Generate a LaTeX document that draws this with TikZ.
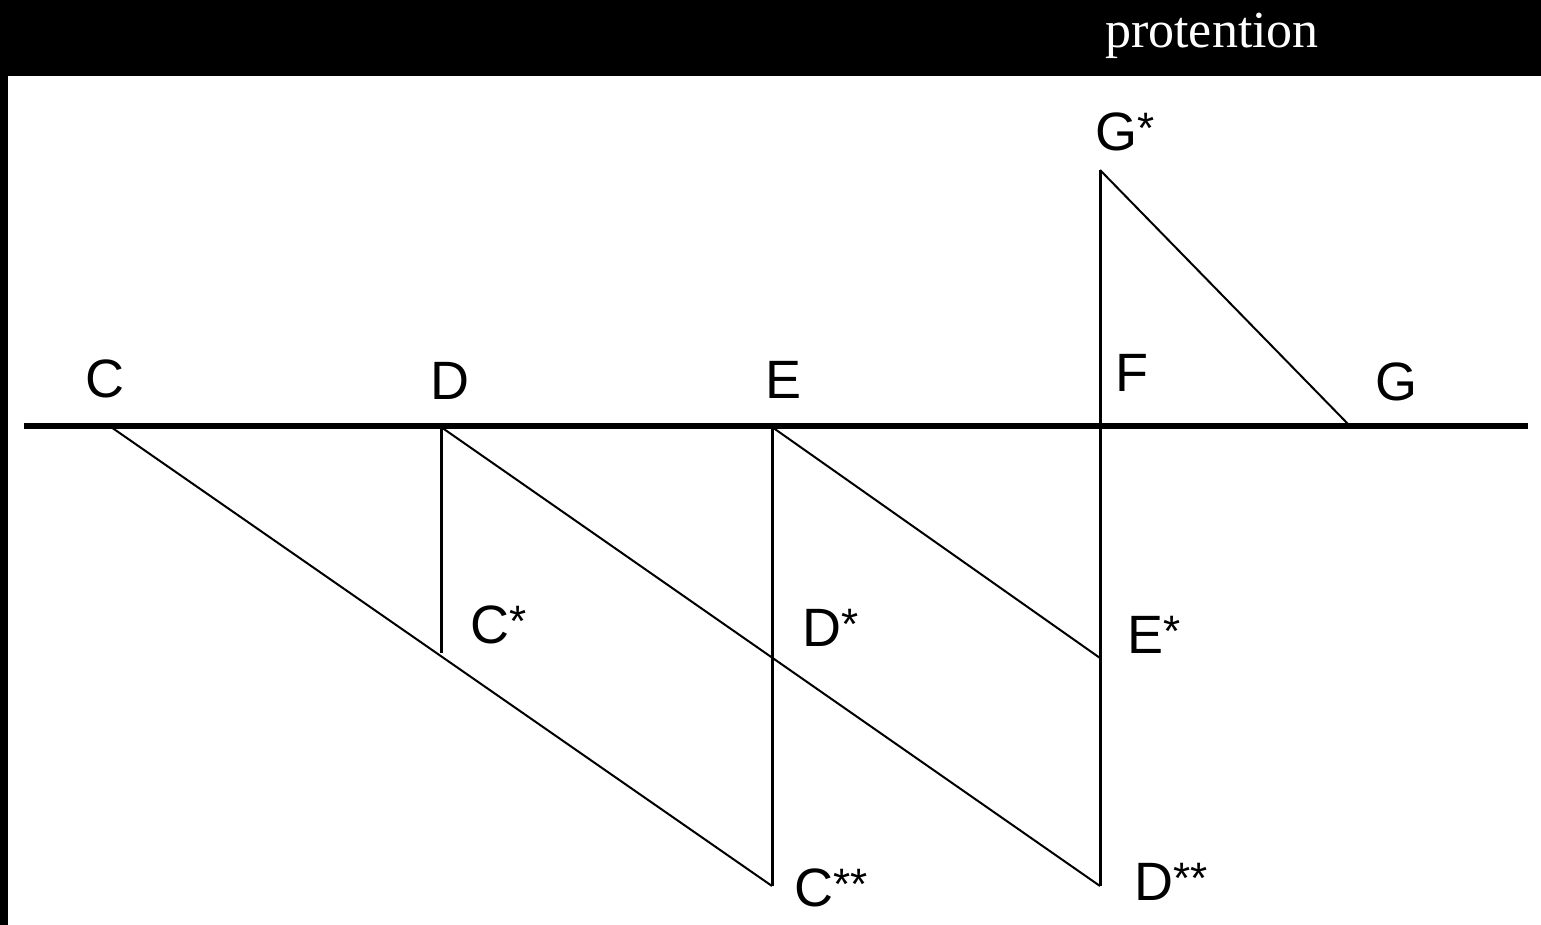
\documentclass[tikz,border=0pt]{standalone}
\usepackage{fontspec}
\setmainfont{Liberation Serif}
\newfontfamily\ptfont{Liberation Sans}
\usetikzlibrary{positioning}
\newcommand{\st}{\raisebox{3.7pt}{\fontsize{22}{22}\selectfont*}}
\tikzstyle{lbl}=[inner sep=0pt, text=black, font=\ptfont\fontsize{27}{30}\selectfont]
\tikzstyle{title}=[inner sep=0pt, text=white, font=\fontsize{26}{30}\selectfont]
\tikzstyle{axisline}=[line width=3pt]
\tikzstyle{vline}=[line width=1.5pt]
\tikzstyle{dline}=[line width=1pt]

\begin{document}
\begin{tikzpicture}[x=0.5pt, y=-0.5pt]

    \useasboundingbox (0,0) rectangle (1541,925);
    \fill[black] (0,0) rectangle (1541,925);
    \fill[white] (8,76) rectangle (1541,925);

    \node[title] (prot) at (1212,36) {protention};

    % points
    \coordinate (axL) at (24,426);
    \coordinate (axR) at (1528,426);
    \coordinate (C) at (111,427);
    \coordinate (D) at (441,427);
    \coordinate (E) at (772,427);
    \coordinate (F) at (1100,427);
    \coordinate (G) at (1348,424);
    \coordinate (Gs) at (1100,170);
    \coordinate (Cs) at (441,653);
    \coordinate (Es) at (1100,658);
    \coordinate (Css) at (772,886);
    \coordinate (Dss) at (1100,886);

    % labels
    \node[lbl] (lC) at (105,379) {C};
    \node[lbl] (lD) at (450,381) {D};
    \node[lbl] (lE) at (783,380) {E};
    \node[lbl] (lF) at (1132,373) {F};
    \node[lbl] (lG) at (1396,382) {G};
    \node[lbl] (lGs) at (1125,132) {G\st};
    \node[lbl] (lCs) at (499,625) {C\st};
    \node[lbl] (lDs) at (831,628) {D\st};
    \node[lbl] (lEs) at (1154,635) {E\st};
    \node[lbl] (lCss) at (831,888) {C\st\st};
    \node[lbl] (lDss) at (1171,882) {D\st\st};

    \draw[axisline] (axL) -- (axR);

    \draw[vline] (D) -- (Cs);
    \draw[vline] (E) -- (Css);
    \draw[vline] (Gs) -- (Dss);

    \draw[dline] (C) -- (Css);
    \draw[dline] (D) -- (Dss);
    \draw[dline] (E) -- (Es);
    \draw[dline] (Gs) -- (G);

\end{tikzpicture}
\end{document}
